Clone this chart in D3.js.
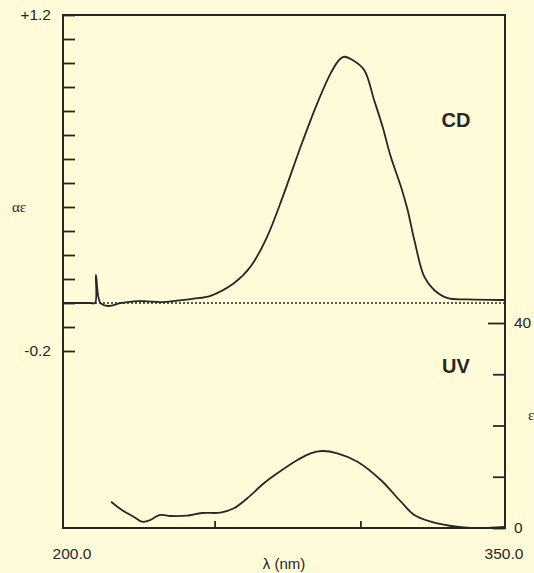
<!DOCTYPE html>
<html>
  <head>
    <script src="https://d3js.org/d3.v7.min.js"></script>
    <style>
      body { margin: 0; background: #fffbd8; }
      svg { display: block; font-family: "Liberation Sans", Arial, sans-serif; }
    </style>
  </head>
  <body>
    <svg width="534" height="573"></svg>
    <script>

      // wavelength (nm) and CD signal
      const cdWave = [198, 207.3, 209.0, 209.3, 210.8, 213.6, 217.6, 222.2, 226.8, 231.4, 237.1, 242.8,
        248.6, 256.6, 262.3, 268.0, 273.8, 279.5, 285.2, 289.8, 292.7, 294.4, 297.3, 301.3,
        304.7, 307.6, 310.4, 313.9, 316.2, 318.5, 321.9, 325.3, 330.0, 336.8, 348.3, 349.6];
      const cdValue = [0, 0, 0, 0.117, 0.001, -0.0125, -0.001, 0.007, 0.007, 0.004, 0.010, 0.018,
        0.03, 0.082, 0.151, 0.276, 0.457, 0.651, 0.832, 0.957, 1.0125, 1.026, 1.0125, 0.971,
        0.846, 0.735, 0.610, 0.485, 0.3875, 0.2625, 0.110, 0.054, 0.020, 0.015, 0.0125, 0.0125];

      // UV absorption
      const uvWave = [214.5, 218.2, 222.2, 225.1, 227.3, 231.4, 234.8, 240.5, 245.7, 252.0, 256.6,
        261.2, 266.9, 271.5, 278.4, 282.9, 286.9, 292.1, 299.0, 307.0, 313.9, 318.5, 324.2, 331.1,
        338.0, 344.8, 349.4];
      const uvValue = [5.13, 3.51, 2.2, 1.23, 1.42, 2.54, 2.34, 2.4, 2.93, 2.99, 3.84, 5.8, 8.72,
        10.67, 13.27, 14.58, 15.02, 14.58, 12.94, 9.37, 5.13, 2.54, 1.23, 0.39, 0, 0.06, 0.2];

      const xTicks = [250, 300];
      const cdTicks = d3.range(-2, 13).map(d => d / 10);
      const cdLabels = [1.2, -0.2];
      const uvTicks = [0, 10, 20, 30, 40];
      const uvLabels = [0, 40];

      const m = {left: 63, right: 505, top: 15, bottom: 528};
      const ink = '#262626';

      const svg = d3.select('svg');

      const x = d3.scaleLinear().domain([198, 349.6]).range([m.left, m.right]);
      const yCD = d3.scaleLinear().domain([-0.9375, 1.2]).range([m.bottom, m.top]);
      const yUV = d3.scaleLinear().domain([0, 40]).range([m.bottom, m.bottom - 205]);

      // left ticks (inside) and labels
      svg.append('g')
          .attr('transform', `translate(${m.left},0)`)
          .call(d3.axisRight(yCD).tickValues(cdTicks).tickSize(12).tickFormat(''))
          .call(g => g.select('.domain').remove());
      svg.append('g')
          .attr('transform', `translate(${m.left},0)`)
          .call(d3.axisLeft(yCD).tickValues(cdLabels).tickSize(0).tickPadding(12)
            .tickFormat(d => d > 0 ? '+' + d.toFixed(1) : d.toFixed(1)))
          .call(g => g.select('.domain').remove());

      // right ticks
      svg.append('g')
          .attr('transform', `translate(${m.right},0)`)
          .call(d3.axisLeft(yUV).tickValues(uvTicks).tickSize(12).tickFormat(''))
          .call(g => g.select('.domain').remove())
          .call(g => g.selectAll('.tick line').attr('x2', d => d === 40 ? -17 : -12));
      svg.append('g')
          .attr('transform', `translate(${m.right},0)`)
          .call(d3.axisRight(yUV).tickValues(uvLabels).tickSize(0).tickPadding(9))
          .call(g => g.select('.domain').remove());

      // bottom ticks
      svg.append('g')
          .attr('transform', `translate(0,${m.bottom})`)
          .call(d3.axisTop(x).tickValues(xTicks).tickSize(7).tickFormat(''))
          .call(g => g.select('.domain').remove());

      svg.selectAll('.tick line').attr('stroke', ink).attr('stroke-width', 1.8);
      svg.selectAll('.tick text').attr('fill', ink).style('font-size', '15.5px');

      // frame
      svg.append('rect')
          .attr('x', m.left).attr('y', m.top)
          .attr('width', m.right - m.left).attr('height', m.bottom - m.top)
          .attr('fill', 'none').attr('stroke', ink).attr('stroke-width', 2);

      // zero line
      svg.append('line')
          .attr('x1', m.left).attr('x2', m.right)
          .attr('y1', yCD(0)).attr('y2', yCD(0))
          .attr('stroke', ink).attr('stroke-width', 1.5).attr('stroke-dasharray', '2,2');

      const cdLine = d3.line()
          .x((d, i) => x(cdWave[i]))
          .y(d => yCD(d))
          .curve(d3.curveCatmullRom.alpha(0.5));
      const uvLine = d3.line()
          .x((d, i) => x(uvWave[i]))
          .y(d => yUV(d))
          .curve(d3.curveCatmullRom.alpha(0.5));

      svg.append('path').attr('d', cdLine(cdValue))
          .attr('fill', 'none').attr('stroke', ink).attr('stroke-width', 1.8);
      svg.append('path').attr('d', uvLine(uvValue))
          .attr('fill', 'none').attr('stroke', ink).attr('stroke-width', 1.8);

      // labels
      const label = (tx, ty, s, size, anchor, weight, family) => svg.append('text')
          .attr('x', tx).attr('y', ty)
          .attr('text-anchor', anchor || 'middle')
          .attr('fill', ink)
          .style('font-size', size + 'px')
          .style('font-weight', weight || 'normal')
          .style('font-family', family || null)
          .text(s);

      label(72, 559, '200.0', 15.5);
      label(504, 559, '350.0', 15.5);
      label(284, 569, 'λ (nm)', 15);
      label(12, 212, 'αε', 15, 'start', 'normal', '"Liberation Serif", serif');
      label(528, 420, 'ε', 15, 'start', 'normal', '"Liberation Serif", serif');
      label(456, 127, 'CD', 20, 'middle', 'bold');
      label(456, 373, 'UV', 20, 'middle', 'bold');

    </script>
  </body>
</html>
